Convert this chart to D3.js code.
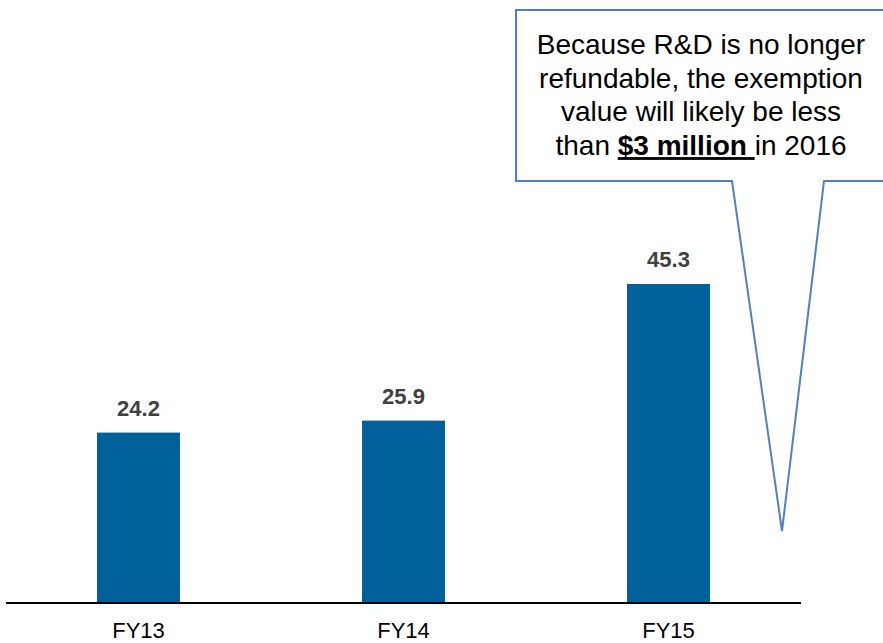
<!DOCTYPE html>
<html>
<head>
<meta charset="utf-8">
<script src="https://cdn.jsdelivr.net/npm/d3@7"></script>
<style>
  body { margin: 0; background: #fff; }
  svg { display: block; font-family: "Liberation Sans", Arial, sans-serif; }
</style>
</head>
<body>
<script>
var w = 883;
var h = 643;

// data
var years = ["FY13", "FY14", "FY15"];
var values = [24.2, 25.9, 45.3];
var calloutLines = [
    [{ t: "Because R&D is no longer" }],
    [{ t: "refundable, the exemption" }],
    [{ t: "value will likely be less" }],
    [{ t: "than " }, { t: "$3 million ", b: true }, { t: "in 2016" }]
];

var baseY = 603;

var x = d3.scaleBand()
    .domain(years)
    .range([6, 801])
    .paddingInner(0.687)
    .paddingOuter(0.3435);

var y = d3.scaleLinear()
    .domain([0, 45.3])
    .range([baseY, 284]);

var svg = d3.select("body")
    .append("svg")
    .attr("width", w)
    .attr("height", h);

// bars
svg.selectAll("rect.bar")
    .data(values)
    .enter()
    .append("rect")
    .attr("class", "bar")
    .attr("x", function (d, i) { return x(years[i]); })
    .attr("y", function (d) { return y(d); })
    .attr("width", x.bandwidth())
    .attr("height", function (d) { return baseY - y(d); })
    .attr("fill", "#00609A");

// value labels
svg.selectAll("text.val")
    .data(values)
    .enter()
    .append("text")
    .attr("class", "val")
    .attr("x", function (d, i) { return x(years[i]) + x.bandwidth() / 2; })
    .attr("y", function (d) { return y(d) - 17; })
    .attr("text-anchor", "middle")
    .attr("font-size", 22)
    .attr("font-weight", "bold")
    .attr("fill", "#404040")
    .text(function (d) { return d.toFixed(1); });

// x axis
var xAxis = svg.append("g")
    .attr("transform", "translate(0," + baseY + ")")
    .call(d3.axisBottom(x).tickSize(0).tickPadding(19));
xAxis.select(".domain")
    .attr("d", "M6,0H801")
    .attr("stroke", "#000")
    .attr("stroke-width", 2);
xAxis.selectAll("text")
    .attr("font-size", 22)
    .attr("font-family", "Liberation Sans, Arial, sans-serif")
    .attr("fill", "#000");

// callout
svg.append("path")
    .attr("d", "M516,10H884V181H824L782,531L732,181H516Z")
    .attr("fill", "#fff")
    .attr("stroke", "#4F81BD")
    .attr("stroke-width", 2);

var txt = svg.append("text")
    .attr("text-anchor", "middle")
    .attr("font-size", 28)
    .attr("fill", "#000");

calloutLines.forEach(function (line, i) {
    var row = txt.append("tspan")
        .attr("x", 701)
        .attr("y", 54 + i * 33.7);
    line.forEach(function (part) {
        row.append("tspan")
            .attr("font-weight", part.b ? "bold" : null)
            .attr("text-decoration", part.b ? "underline" : null)
            .text(part.t);
    });
});
</script>
</body>
</html>
